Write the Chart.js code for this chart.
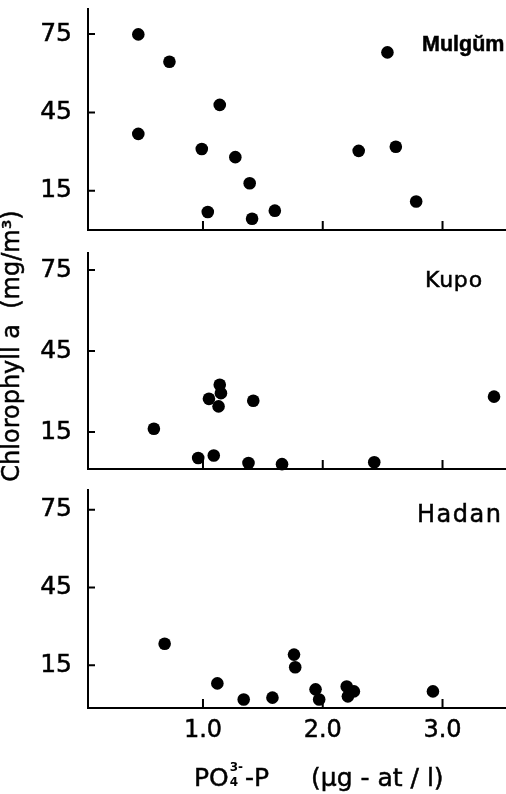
<!DOCTYPE html>
<html>
<head>
<meta charset="utf-8">
<script src="https://cdn.jsdelivr.net/npm/chart.js@4.4.0/dist/chart.umd.min.js"></script>
<style>
  html, body { margin: 0; padding: 0; background: #fff; }
  #wrap { position: relative; width: 506px; height: 794px; }
  #wrap canvas { position: absolute; left: 0; top: 0; }
</style>
</head>
<body>
<div id="wrap">
  <canvas id="c0" width="506" height="794"></canvas>
  <canvas id="c1" width="506" height="794"></canvas>
  <canvas id="c2" width="506" height="794"></canvas>
</div>
<script>
// station names, top to bottom
const stations = ['Mulgŭm', 'Kupo', 'Hadan'];

// PO4-P (x) and chlorophyll a (y)
const mulgumX = [0.46, 0.72, 0.46, 1.14, 0.99, 1.27, 1.39, 1.04, 1.41, 1.60, 2.30, 2.61, 2.54, 2.78];
const mulgumY = [74.9, 64.4, 36.8, 47.9, 31.0, 27.9, 17.9, 6.9, 4.3, 7.4, 30.3, 31.9, 68.0, 10.9];

const kupoX = [0.59, 0.96, 1.09, 1.05, 1.14, 1.15, 1.13, 1.42, 1.38, 1.66, 2.43, 3.43];
const kupoY = [16.2, 5.4, 6.3, 27.3, 32.5, 29.4, 24.5, 26.6, 3.5, 3.1, 3.8, 28.1];

const hadanX = [0.68, 1.12, 1.34, 1.58, 1.76, 1.77, 1.94, 1.97, 2.20, 2.26, 2.21, 2.92];
const hadanY = [23.3, 8.0, 1.8, 2.5, 19.1, 14.2, 5.7, 1.8, 6.8, 4.9, 3.0, 4.9];

const yTicks = [15, 45, 75];
const xTicks = [1.0, 2.0, 3.0];
const xTickLabels = ['1.0', '2.0', '3.0'];
const yTitle = 'Chlorophyll a  (mg/m³)';

const FONT = '"DejaVu Sans", sans-serif';

// where each panel sits on the page
const panels = [
  { id: 'c0', xs: mulgumX, ys: mulgumY, top: 8, bottom: 230, yMin: 0, yMax: 85,
    nameFont: 'bold 21.5px "Liberation Sans", Arial, sans-serif', nameX: 422, nameY: 51, spacing: '0px' },
  { id: 'c1', xs: kupoX, ys: kupoY, top: 252, bottom: 469, yMin: 1.3, yMax: 81.7,
    nameFont: '22px ' + FONT, nameX: 425, nameY: 287, spacing: '0.8px' },
  { id: 'c2', xs: hadanX, ys: hadanY, top: 489, bottom: 708, yMin: -1.5, yMax: 83,
    nameFont: '24px ' + FONT, nameX: 417, nameY: 522, spacing: '1.5px' },
];

// fill + thin stroke, the print is a little heavy
function boldText(ctx, s, x, y) {
  ctx.fillText(s, x, y);
  ctx.strokeText(s, x, y);
}

const frame = {
  id: 'frame',
  afterDatasetsDraw(chart, args, opts) {
    const { ctx, chartArea: a, scales: { x, y } } = chart;
    ctx.save();
    ctx.strokeStyle = '#000';
    ctx.lineWidth = 2;
    ctx.beginPath();
    ctx.moveTo(a.left, a.top);
    ctx.lineTo(a.left, a.bottom);
    ctx.lineTo(a.right, a.bottom);
    yTicks.forEach(v => {
      const p = y.getPixelForValue(v);
      ctx.moveTo(a.left, p);
      ctx.lineTo(a.left + 7, p);
    });
    xTicks.forEach(v => {
      const p = x.getPixelForValue(v);
      ctx.moveTo(p, a.bottom);
      ctx.lineTo(p, a.bottom - 9);
    });
    ctx.stroke();

    ctx.fillStyle = '#000';
    ctx.lineWidth = 0.5;
    ctx.font = opts.font;
    ctx.letterSpacing = opts.spacing;
    ctx.textAlign = 'left';
    ctx.textBaseline = 'alphabetic';
    boldText(ctx, opts.name, opts.x, opts.y);
    ctx.restore();
  }
};

// shared y title, drawn with the middle panel
const yTitlePlugin = {
  id: 'yTitle',
  afterDraw(chart) {
    const ctx = chart.ctx;
    ctx.save();
    ctx.translate(13, 346);
    ctx.rotate(-Math.PI / 2);
    ctx.fillStyle = '#000';
    ctx.strokeStyle = '#000';
    ctx.lineWidth = 0.5;
    ctx.font = '24px ' + FONT;
    ctx.textAlign = 'center';
    ctx.textBaseline = 'middle';
    boldText(ctx, yTitle, 0, 0);
    ctx.restore();
  }
};

// x title with PO4 3- sub/superscript, drawn with the bottom panel
const xTitlePlugin = {
  id: 'xTitle',
  afterDraw(chart) {
    const ctx = chart.ctx;
    const base = 786;
    ctx.save();
    ctx.fillStyle = '#000';
    ctx.strokeStyle = '#000';
    ctx.lineWidth = 0.5;
    ctx.textAlign = 'left';
    ctx.textBaseline = 'alphabetic';
    ctx.font = '25px ' + FONT;
    let cx = 194;
    boldText(ctx, 'PO', cx, base);
    cx += ctx.measureText('PO').width + 1;
    ctx.font = 'bold 12px ' + FONT;
    ctx.fillText('3-', cx, base - 15);
    ctx.fillText('4', cx, base);
    cx += ctx.measureText('3-').width + 2;
    ctx.font = '25px ' + FONT;
    boldText(ctx, '-P', cx, base);
    boldText(ctx, '(µg - at / l)', 311, base);
    ctx.restore();
  }
};

panels.forEach((p, i) => {
  const showX = i === panels.length - 1;
  const plugins = [frame];
  if (i === 1) plugins.push(yTitlePlugin);
  if (showX) plugins.push(xTitlePlugin);

  new Chart(document.getElementById(p.id), {
    type: 'scatter',
    data: {
      datasets: [{
        data: p.xs.map((v, k) => ({ x: v, y: p.ys[k] })),
        backgroundColor: '#000',
        borderWidth: 0,
        pointRadius: 6.3,
        pointHoverRadius: 6.3,
        clip: false,
      }]
    },
    options: {
      responsive: false,
      devicePixelRatio: 1,
      animation: false,
      events: [],
      layout: {
        autoPadding: false,
        padding: { left: 0, right: 0, top: p.top, bottom: showX ? 0 : 794 - p.bottom }
      },
      plugins: {
        legend: { display: false },
        tooltip: { enabled: false },
        frame: { name: stations[i], font: p.nameFont, x: p.nameX, y: p.nameY, spacing: p.spacing },
      },
      scales: {
        x: {
          type: 'linear',
          min: 0.04,
          max: 3.53,
          display: showX,
          grid: { display: false },
          border: { display: false },
          ticks: {
            color: '#000',
            font: { family: FONT, size: 24 },
            textStrokeColor: '#000',
            textStrokeWidth: 0.5,
            padding: 0,
            autoSkip: false,
            maxRotation: 0,
            callback: v => xTickLabels[xTicks.indexOf(v)],
          },
          afterBuildTicks: s => { s.ticks = xTicks.map(v => ({ value: v })); },
          afterFit: s => {
            if (showX) s.height = 794 - p.bottom;
            s.paddingLeft = 0; s.paddingRight = 0;
          },
        },
        y: {
          type: 'linear',
          min: p.yMin,
          max: p.yMax,
          grid: { display: false },
          border: { display: false },
          ticks: {
            color: '#000',
            font: { family: FONT, size: 25 },
            textStrokeColor: '#000',
            textStrokeWidth: 0.5,
            padding: 8,
            callback: v => String(v),
          },
          afterBuildTicks: s => { s.ticks = yTicks.map(v => ({ value: v })); },
          afterFit: s => {
            s.width = 88;
            s.paddingTop = 0; s.paddingBottom = 0;
          },
        }
      }
    },
    plugins: plugins
  });
});
</script>
</body>
</html>
